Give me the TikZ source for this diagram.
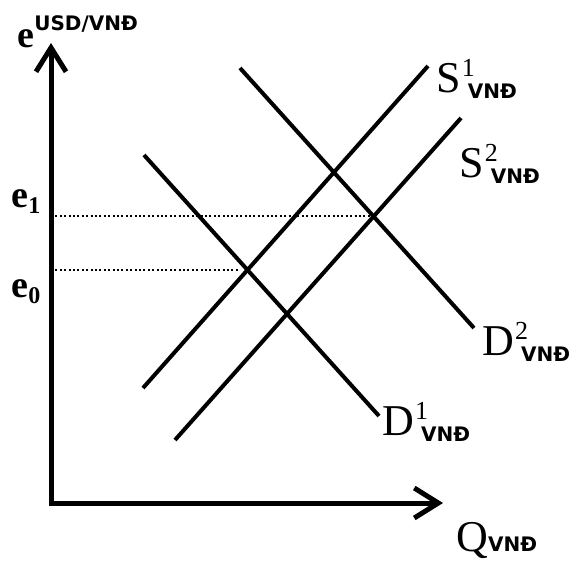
\documentclass[tikz,border=0pt]{standalone}
\usepackage{fontspec}
\setmainfont{Liberation Serif}
\newfontfamily\capsfont{DejaVu Sans}
\usepackage{tikz}
\usetikzlibrary{arrows.meta}
\newcommand{\capstext}[1]{{\capsfont\bfseries\fontsize{10}{10}\selectfont #1}}
\newcommand{\curvelabel}[2]{#1\rlap{\raisebox{8pt}{\hspace{0.5pt}\fontsize{13}{13}\selectfont #2}}\raisebox{-3pt}{\hspace{3.5pt}\capstext{VNĐ}}}
\newcommand{\ratelabel}[1]{e\raisebox{-3pt}{\fontsize{12}{12}\selectfont #1}}

\begin{document}
\begin{tikzpicture}[x=0.5pt,y=-0.5pt,
  axis/.style={line width=2.5pt,{Straight Barb[length=12pt,width=15pt]}-{Straight Barb[length=12pt,width=15pt]}},
  curve/.style={line width=2pt},
  guide/.style={line width=1pt,dash pattern=on 1pt off 1.2pt},
  lbl/.style={anchor=base west,inner sep=0pt,font=\fontsize{22}{22}\selectfont},
  elbl/.style={anchor=base west,inner sep=0pt,font=\fontsize{19}{19}\selectfont\bfseries}
]
  \useasboundingbox (0,0) rectangle (576,562);
  % axes
  \coordinate (o) at (51,503);
  \coordinate (ytop) at (51,43);
  \coordinate (xend) at (443,503);
  \draw[axis] (ytop) -- (o) -- (xend);
  % supply and demand
  \coordinate (s1a) at (143,388); \coordinate (s1b) at (428,66);
  \coordinate (s2a) at (175,440); \coordinate (s2b) at (461,118);
  \coordinate (d1a) at (144,155); \coordinate (d1b) at (379,416);
  \coordinate (d2a) at (240,68);  \coordinate (d2b) at (474,328);
  \draw[curve] (s1a) -- (s1b);
  \draw[curve] (s2a) -- (s2b);
  \draw[curve] (d1a) -- (d1b);
  \draw[curve] (d2a) -- (d2b);
  % equilibria
  \coordinate (eq0) at (intersection of s1a--s1b and d1a--d1b);
  \coordinate (eq1) at (intersection of s2a--s2b and d2a--d2b);
  \draw[guide] (o |- eq1) -- (eq1);
  \draw[guide,shorten >=5pt] (o |- eq0) -- (eq0);
  % labels
  \node[elbl] (ylbl) at (17,47) {e\raisebox{8.5pt}{\capstext{USD/VNĐ}}};
  \node[lbl] (xlbl) at (456,551) {Q\capstext{VNĐ}};
  \node[elbl] (e1lbl) at (11,207) {\ratelabel{1}};
  \node[elbl] (e0lbl) at (11,297) {\ratelabel{0}};
  \node[lbl] (s1lbl) at (436,92) {\curvelabel{S}{1}};
  \node[lbl] (s2lbl) at (459,177) {\curvelabel{S}{2}};
  \node[lbl] (d1lbl) at (382,435) {\curvelabel{D}{1}};
  \node[lbl] (d2lbl) at (482,355) {\curvelabel{D}{2}};
\end{tikzpicture}
\end{document}
